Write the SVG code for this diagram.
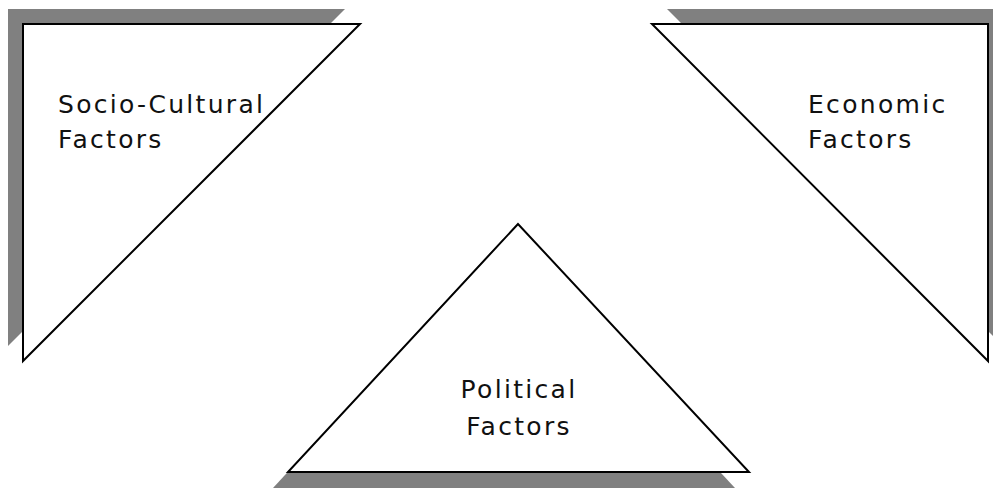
<svg xmlns="http://www.w3.org/2000/svg" width="993" height="489" viewBox="0 0 993 489">
<style>
.shadow{fill:#808080;stroke:none}
.tri{fill:#fff;stroke:#000;stroke-width:2;stroke-linejoin:miter}
.lbl{font-family:"DejaVu Sans",Verdana,sans-serif;font-size:25px;letter-spacing:2.3px;fill:#111}
</style>
<rect width="993" height="489" fill="#fff"/>
<g id="socio-cultural">
<polygon class="shadow" points="8,9 345,9 8,346"/>
<polygon class="tri" points="23,24 360,24 23,361"/>
<text class="lbl" x="58" y="113">Socio-Cultural</text>
<text class="lbl" x="58" y="148">Factors</text>
</g>
<g id="economic">
<polygon class="shadow" points="667,9 1003,9 1003,346"/>
<polygon class="tri" points="652,24 988,24 988,361"/>
<text class="lbl" x="808" y="113">Economic</text>
<text class="lbl" x="808" y="148">Factors</text>
</g>
<g id="political">
<polygon class="shadow" points="503,239 273,488 735,488"/>
<polygon class="tri" points="518,224 288,472 749,472"/>
<text class="lbl" x="519" y="398" text-anchor="middle">Political</text>
<text class="lbl" x="519" y="435" text-anchor="middle">Factors</text>
</g>
<g id="connectors"/>
</svg>
